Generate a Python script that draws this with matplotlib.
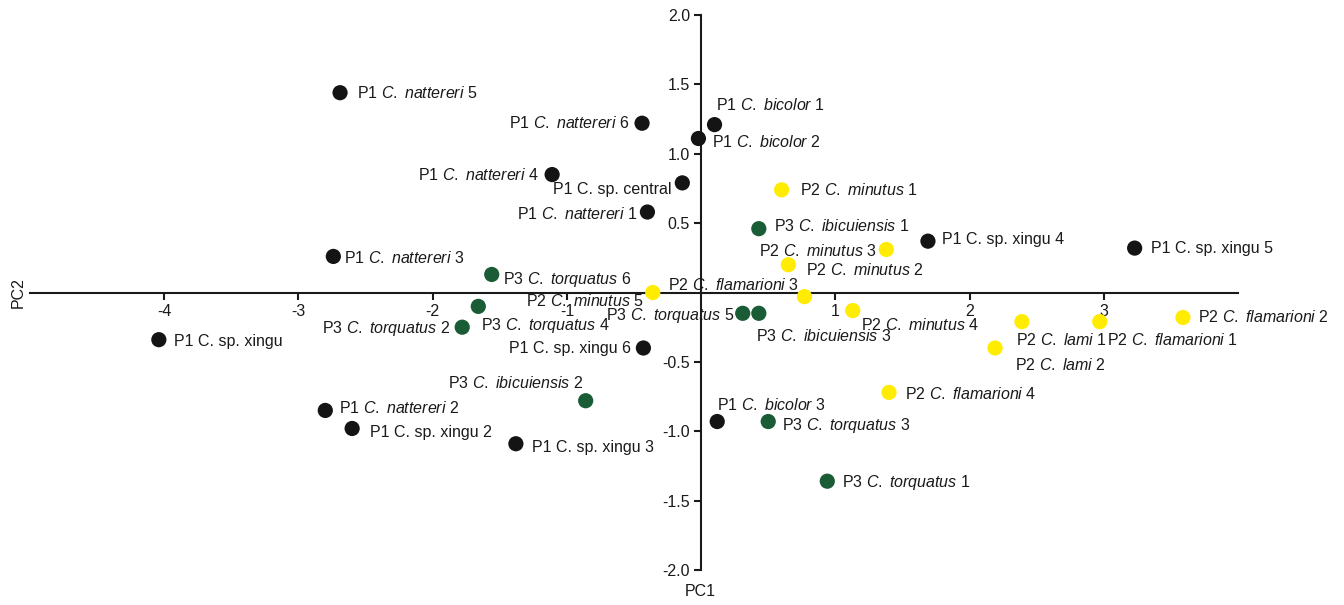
import matplotlib.pyplot as plt

plt.rcParams['font.family'] = ['Liberation Sans', 'DejaVu Sans']
plt.rcParams['mathtext.fontset'] = 'custom'
plt.rcParams['mathtext.rm'] = 'Liberation Sans'
plt.rcParams['mathtext.it'] = 'Liberation Sans:italic'


def sp(prefix, genus, species, num):
    # species names in italics, sample prefix / number upright
    return rf"{prefix} $\mathit{{{genus}}}$ $\mathit{{{species}}}$ {num}"


# PCA scores
p1_labels = [
    sp("P1", "C.", "nattereri", 5), sp("P1", "C.", "nattereri", 6),
    sp("P1", "C.", "bicolor", 1), sp("P1", "C.", "bicolor", 2),
    sp("P1", "C.", "nattereri", 4), "P1 C. sp. central",
    sp("P1", "C.", "nattereri", 1), sp("P1", "C.", "nattereri", 3),
    "P1 C. sp. xingu", "P1 C. sp. xingu 6",
    sp("P1", "C.", "nattereri", 2), "P1 C. sp. xingu 2",
    "P1 C. sp. xingu 3", sp("P1", "C.", "bicolor", 3),
    "P1 C. sp. xingu 4", "P1 C. sp. xingu 5",
]
p1_pc1 = [-2.69, -0.44, 0.10, -0.02, -1.11, -0.14, -0.40, -2.74,
          -4.04, -0.43, -2.80, -2.60, -1.38, 0.12, 1.69, 3.23]
p1_pc2 = [1.44, 1.22, 1.21, 1.11, 0.85, 0.79, 0.58, 0.26,
          -0.34, -0.40, -0.85, -0.98, -1.09, -0.93, 0.37, 0.32]

p3_labels = [
    sp("P3", "C.", "ibicuiensis", 1), sp("P3", "C.", "torquatus", 6),
    sp("P3", "C.", "torquatus", 4), sp("P3", "C.", "torquatus", 2),
    sp("P3", "C.", "torquatus", 5), sp("P3", "C.", "ibicuiensis", 3),
    sp("P3", "C.", "ibicuiensis", 2), sp("P3", "C.", "torquatus", 3),
    sp("P3", "C.", "torquatus", 1),
]
p3_pc1 = [0.43, -1.56, -1.66, -1.78, 0.31, 0.43, -0.86, 0.50, 0.94]
p3_pc2 = [0.46, 0.13, -0.10, -0.25, -0.15, -0.15, -0.78, -0.93, -1.36]

p2_labels = [
    sp("P2", "C.", "minutus", 1), sp("P2", "C.", "minutus", 3),
    sp("P2", "C.", "minutus", 2), sp("P2", "C.", "minutus", 5),
    sp("P2", "C.", "flamarioni", 3), sp("P2", "C.", "minutus", 4),
    sp("P2", "C.", "lami", 1), sp("P2", "C.", "flamarioni", 1),
    sp("P2", "C.", "flamarioni", 2), sp("P2", "C.", "lami", 2),
    sp("P2", "C.", "flamarioni", 4),
]
p2_pc1 = [0.60, 1.38, 0.65, -0.36, 0.77, 1.13, 2.39, 2.97, 3.59, 2.19, 1.40]
p2_pc2 = [0.74, 0.31, 0.20, 0.00, -0.03, -0.13, -0.21, -0.21, -0.18, -0.40, -0.72]

# label placement (offset in pixels from the point, horizontal alignment)
p1_offsets = [(17, 0, 'left'), (-13, 0, 'right'), (1, -20, 'left'), (14, 4, 'left'),
              (-13, 0, 'right'), (-11, 7, 'right'), (-10, 2, 'right'), (11, 2, 'left'),
              (15, 2, 'left'), (-12, 1, 'right'), (14, -2, 'left'), (18, 4, 'left'),
              (16, 4, 'left'), (0, -17, 'left'), (14, -2, 'left'), (16, 0, 'left')]
p3_offsets = [(15, -3, 'left'), (11, 5, 'left'), (3, 19, 'left'), (-12, 1, 'right'),
              (-8, 2, 'right'), (-3, 23, 'left'), (-2, -18, 'right'), (14, 4, 'left'),
              (15, 1, 'left')]
p2_offsets = [(18, 0, 'left'), (-10, 2, 'right'), (18, 5, 'left'), (-9, 8, 'right'),
              (-5, -12, 'right'), (8, 14, 'left'), (-6, 18, 'left'), (7, 18, 'left'),
              (15, 0, 'left'), (20, 17, 'left'), (16, 2, 'left')]

groups = [
    (p1_pc1, p1_pc2, p1_labels, p1_offsets, '#141414'),
    (p3_pc1, p3_pc2, p3_labels, p3_offsets, '#1a5c36'),
    (p2_pc1, p2_pc2, p2_labels, p2_offsets, '#ffec00'),
]

fig = plt.figure(figsize=(13.44, 6.05), dpi=100)
ax = fig.add_axes([30 / 1344, 35 / 605, (1238 - 30) / 1344, (570 - 15) / 605])

for xs, ys, labels, offsets, color in groups:
    ax.scatter(xs, ys, s=120, color=color, edgecolors='none', zorder=3)
    for x, y, lab, (dx, dy, ha) in zip(xs, ys, labels, offsets):
        ax.annotate(lab, (x, y), xytext=(dx * 0.72, -dy * 0.72),
                    textcoords='offset points', ha=ha, va='center',
                    fontsize=11.5, color='#1a1a1a')

ax.set_xlim(-5, 4)
ax.set_ylim(-2, 2)

ax.spines['left'].set_position(('data', 0))
ax.spines['bottom'].set_position(('data', 0))
ax.spines['right'].set_visible(False)
ax.spines['top'].set_visible(False)
for side in ['left', 'bottom']:
    ax.spines[side].set_linewidth(1.5)
    ax.spines[side].set_color('#1a1a1a')

ax.set_xticks([-4, -3, -2, -1, 1, 2, 3])
ax.set_xticklabels(['-4', '-3', '-2', '-1', '1', '2', '3'])
ax.set_yticks([-2.0, -1.5, -1.0, -0.5, 0.5, 1.0, 1.5, 2.0])
ax.set_yticklabels(['-2.0', '-1.5', '-1.0', '-0.5', '0.5', '1.0', '1.5', '2.0'])
ax.tick_params(axis='both', direction='out', length=5, width=1.5,
               labelsize=11.5, colors='#1a1a1a', pad=3)

fig.text(18 / 1344, 1 - 293 / 605, 'PC2', rotation=90, ha='center', va='center',
         fontsize=11.5, color='#1a1a1a')
fig.text(700 / 1344, 1 - 592 / 605, 'PC1', ha='center', va='center',
         fontsize=11.5, color='#1a1a1a')

fig.savefig('out.png', dpi=100)
